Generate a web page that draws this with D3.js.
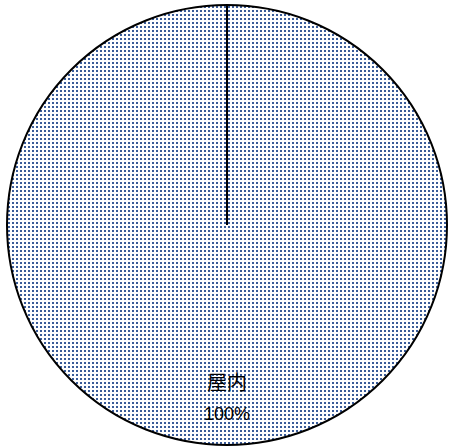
<!DOCTYPE html>
<html><head><meta charset="utf-8">
<script src="https://cdn.jsdelivr.net/npm/d3@7"></script>
<style>html,body{margin:0;padding:0;background:#fff;}</style>
</head><body>
<svg id="c" width="449" height="447"></svg>
<script>
const categories = ["屋内"];
const values = [100];
const percentLabels = ["100%"];

const svg = d3.select("#c");
const cx = 227, cy = 225, r = 220;

const defs = svg.append("defs");
const pat = defs.append("pattern").attr("id","dots").attr("patternUnits","userSpaceOnUse")
  .attr("width",4).attr("height",4);
pat.append("rect").attr("width",4).attr("height",4).attr("fill","#ffffff");
pat.append("rect").attr("x",1).attr("y",1).attr("width",2).attr("height",2).attr("fill","#3a5c99");

const data = categories.map((c,i)=>({cat:c, v:values[i], lab:percentLabels[i]}));
const pie = d3.pie().value(d=>d.v).sort(null);
const arc = d3.arc().innerRadius(0).outerRadius(r);
const g = svg.append("g").attr("transform",`translate(${cx},${cy})`);
const arcs = pie(data);
g.selectAll("path").data(arcs).join("path")
  .attr("d",arc).attr("fill","url(#dots)").attr("stroke","none");
g.append("circle").attr("r",r).attr("fill","none").attr("stroke","#000").attr("stroke-width",2);
arcs.forEach(a=>{
  const ang = a.startAngle;
  g.append("line").attr("x1",0).attr("y1",0)
    .attr("x2",Math.sin(ang)*r).attr("y2",-Math.cos(ang)*r)
    .attr("stroke","#000").attr("stroke-width",2);
});
const lab = g.selectAll("g.lab").data(arcs).join("g").attr("class","lab")
  .attr("transform",a=>{
    const mid=(a.startAngle+a.endAngle)/2;
    const rr = r*0.78;
    return `translate(${Math.sin(mid)*rr},${-Math.cos(mid)*rr})`;
  });
lab.append("text").attr("text-anchor","middle").attr("y",-7)
  .attr("font-family","'Noto Sans CJK JP','Noto Sans CJK SC',sans-serif").attr("font-size",20)
  .attr("fill","#000").text(d=>d.data.cat);
lab.append("text").attr("text-anchor","middle").attr("y",23)
  .attr("font-family","'Liberation Sans','Noto Sans',sans-serif").attr("font-size",18)
  .attr("fill","#000").text(d=>d.data.lab);
</script>
</body></html>
